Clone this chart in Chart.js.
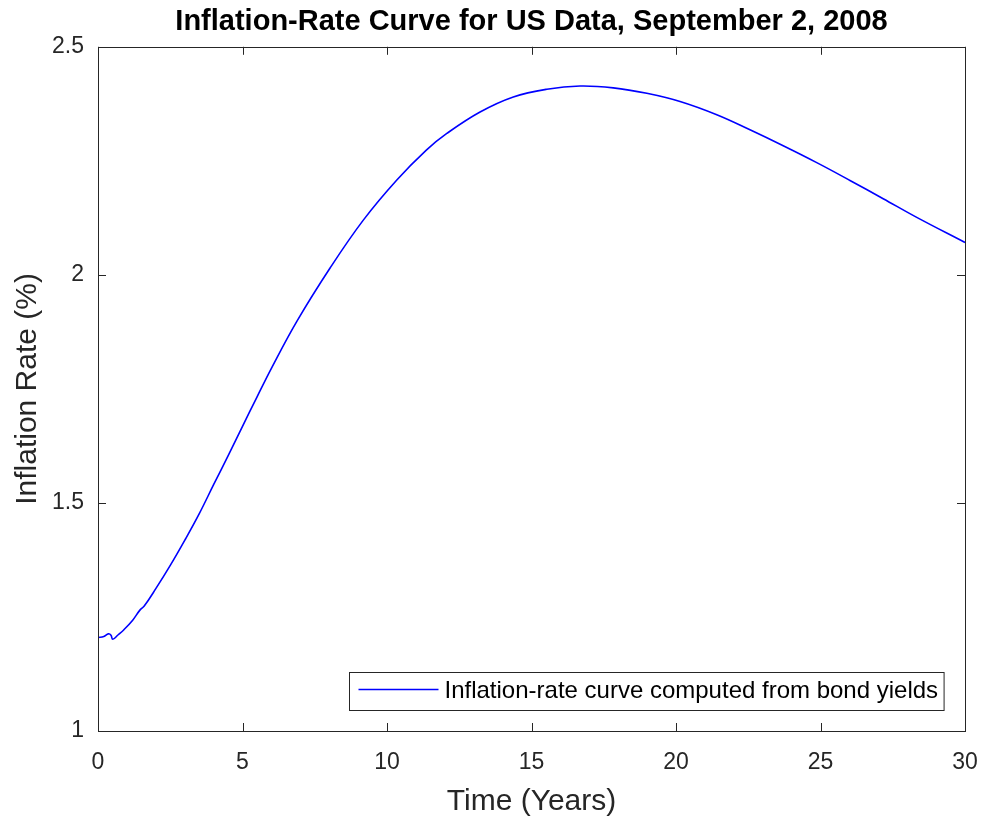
<!DOCTYPE html>
<html>
<head>
<meta charset="utf-8">
<script src="https://cdn.jsdelivr.net/npm/chart.js@4.4.1/dist/chart.umd.min.js"></script>
<style>
  html, body { margin: 0; padding: 0; background: #ffffff; }
  #wrap { width: 982px; height: 817px; position: relative; }
</style>
</head>
<body>
<div id="wrap"><canvas id="c" width="982" height="817"></canvas></div>
<script>
// ---- data ----
const chartTitle = 'Inflation-Rate Curve for US Data, September 2, 2008';
const xAxisTitle = 'Time (Years)';
const yAxisTitle = 'Inflation Rate (%)';
const seriesLabel = 'Inflation-rate curve computed from bond yields';

const years = [0, 0.2, 0.36, 0.45, 0.51, 0.7, 0.88, 1.2, 1.45, 1.6, 2.0, 2.49, 3.0, 3.5, 4.0, 4.5, 5.0, 5.5, 6.0, 6.88, 8.03, 9.18, 10.34, 11.37, 12.07, 13.22, 14.37, 15.53, 16.68, 17.83, 18.99, 20.14, 21.41, 22.56, 23.71, 24.87, 26.02, 27.17, 28.33, 30];
const inflation = [1.205, 1.207, 1.213, 1.210, 1.201, 1.211, 1.221, 1.243, 1.265, 1.274, 1.312, 1.362, 1.418, 1.476, 1.540, 1.603, 1.668, 1.732, 1.795, 1.898, 2.015, 2.120, 2.208, 2.274, 2.310, 2.357, 2.390, 2.407, 2.414, 2.410, 2.398, 2.380, 2.351, 2.318, 2.283, 2.246, 2.207, 2.167, 2.126, 2.071];

const xTicks = [0, 5, 10, 15, 20, 25, 30];
const yTicks = [1, 1.5, 2, 2.5];

const points = years.map((t, i) => ({ x: t, y: inflation[i] }));

const axisColor = '#262626';
const fontFamily = '"Liberation Sans", Arial, Helvetica, sans-serif';

// box + inward ticks (MATLAB style) + legend box
const boxPlugin = {
  id: 'boxPlugin',
  afterDatasetsDraw(chart) {
    const { ctx, chartArea: a, scales } = chart;
    ctx.save();
    ctx.strokeStyle = axisColor;
    ctx.lineWidth = 1;
    const L = 8;
    ctx.beginPath();
    xTicks.forEach(v => {
      const px = Math.round(scales.x.getPixelForValue(v)) + 0.5;
      ctx.moveTo(px, a.bottom); ctx.lineTo(px, a.bottom - L);
      ctx.moveTo(px, a.top); ctx.lineTo(px, a.top + L);
    });
    yTicks.forEach(v => {
      const py = Math.round(scales.y.getPixelForValue(v)) + 0.5;
      ctx.moveTo(a.left, py); ctx.lineTo(a.left + L, py);
      ctx.moveTo(a.right, py); ctx.lineTo(a.right - L, py);
    });
    ctx.stroke();
    ctx.strokeRect(Math.round(a.left) + 0.5, Math.round(a.top) + 0.5,
                   Math.round(a.right - a.left), Math.round(a.bottom - a.top));

    // legend box (bottom-right inside axes)
    const ds = chart.data.datasets[0];
    ctx.font = '24px ' + fontFamily;
    const tw = ctx.measureText(ds.label).width;
    const bw = 95 + tw + 6;
    const bh = 38;
    const bx = Math.round(a.right - 21 - bw) + 0.5;
    const by = Math.round(a.bottom - 21 - bh) + 0.5;
    ctx.fillStyle = '#ffffff';
    ctx.fillRect(bx, by, bw, bh);
    ctx.strokeStyle = axisColor;
    ctx.strokeRect(bx, by, bw, bh);
    ctx.strokeStyle = ds.borderColor;
    ctx.lineWidth = ds.borderWidth;
    ctx.beginPath();
    ctx.moveTo(bx + 9, by + 17);
    ctx.lineTo(bx + 89, by + 17);
    ctx.stroke();
    ctx.fillStyle = '#000000';
    ctx.textBaseline = 'middle';
    ctx.textAlign = 'left';
    ctx.fillText(ds.label, bx + 95, by + 19);
    ctx.restore();
  }
};

new Chart(document.getElementById('c'), {
  type: 'line',
  data: {
    datasets: [{
      label: seriesLabel,
      data: points,
      borderColor: '#0000ff',
      borderWidth: 1.6,
      pointRadius: 0,
      fill: false,
      tension: 0.4
    }]
  },
  options: {
    responsive: false,
    animation: false,
    layout: { padding: { left: 0, right: 17, top: 0, bottom: 0 } },
    plugins: {
      legend: { display: false },
      tooltip: { enabled: false },
      title: {
        display: true,
        fullSize: false,
        text: chartTitle,
        color: '#000000',
        font: { family: fontFamily, size: 29, weight: 'bold' },
        padding: { top: 5, bottom: 7 }
      }
    },
    scales: {
      x: {
        type: 'linear',
        min: 0, max: 30,
        afterBuildTicks(scale) { scale.ticks = xTicks.map(v => ({ value: v })); },
        afterFit(scale) { scale.height = 86; scale.paddingLeft = 0; scale.paddingRight = 0; },
        grid: { display: false, drawTicks: false },
        border: { display: false },
        ticks: {
          color: axisColor,
          padding: 18,
          maxRotation: 0,
          font: { family: fontFamily, size: 23 },
          callback: v => String(v)
        },
        title: {
          display: true,
          text: xAxisTitle,
          color: axisColor,
          padding: { top: 4, bottom: -3 },
          font: { family: fontFamily, size: 30 }
        }
      },
      y: {
        type: 'linear',
        min: 1, max: 2.5,
        afterBuildTicks(scale) { scale.ticks = yTicks.map(v => ({ value: v })); },
        afterFit(scale) { scale.width = 98; scale.paddingTop = 0; scale.paddingBottom = 0; },
        grid: { display: false, drawTicks: false },
        border: { display: false },
        ticks: {
          color: axisColor,
          padding: 14,
          font: { family: fontFamily, size: 23 },
          callback: v => String(v)
        },
        title: {
          display: true,
          text: yAxisTitle,
          color: axisColor,
          padding: { top: 10, bottom: 4 },
          font: { family: fontFamily, size: 30 }
        }
      }
    }
  },
  plugins: [boxPlugin]
});
</script>
</body>
</html>
